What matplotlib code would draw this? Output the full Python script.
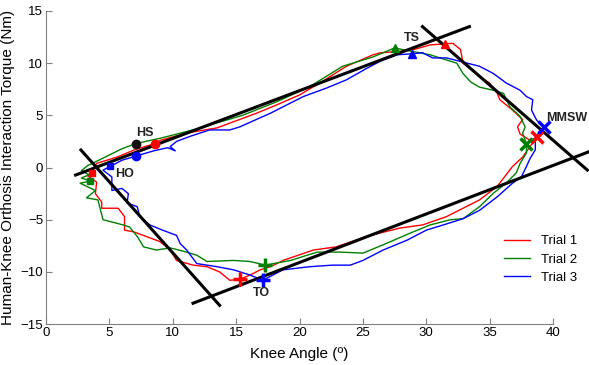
import matplotlib
matplotlib.use("Agg")
import matplotlib.pyplot as plt

plt.rcParams['font.family'] = ['Liberation Sans', 'DejaVu Sans']

# trial traces (knee angle in deg, torque in Nm), one loop each
red_x = [8.6, 7.0, 5.6, 4.8, 4.0, 3.6, 3.3, 4.0, 3.9, 4.4, 4.4, 5.7, 6.2, 6.2, 6.9, 7.9, 9.0, 9.8, 10.3,
         11.6, 12.7, 13.7, 14.5, 15.3, 16.1, 16.9, 17.7, 18.7, 21.1, 22.9, 25.3, 27.9, 29.7, 31.6, 34.2,
         35.6, 36.8, 37.6, 38.0, 38.7, 38.2, 37.4, 37.2, 37.6, 36.8, 35.8, 35.6, 35.0, 34.2, 32.9, 32.7,
         32.1, 31.5, 30.3, 29.0, 27.7, 26.4, 25.8, 23.7, 21.6, 20.0, 18.2, 16.6, 13.5, 11.1, 9.0, 8.6]
red_y = [2.3, 1.7, 1.0, 0.7, 0.4, -0.4, -0.8, -1.4, -2.5, -3.3, -3.9, -3.9, -4.7, -6.0, -6.15, -6.6, -7.1,
         -7.9, -8.9, -9.35, -9.5, -10.0, -10.8, -10.7, -10.3, -9.8, -9.5, -8.9, -7.9, -7.6, -6.6, -5.8,
         -5.5, -4.7, -3.1, -1.8, 0.1, 1.0, 1.7, 2.9, 2.6, 3.2, 3.9, 4.6, 5.5, 6.5, 7.1, 8.1, 8.7, 10.0,
         11.3, 11.9, 11.85, 11.75, 11.3, 11.1, 11.0, 10.8, 9.7, 8.1, 6.95, 6.0, 5.2, 3.8, 3.3, 2.6, 2.3]

green_x = [7.1, 6.0, 5.0, 4.0, 3.3, 2.8, 3.4, 2.8, 3.5, 2.7, 3.9, 3.2, 4.1, 4.5, 6.1, 6.6, 7.2, 7.7, 8.7,
           9.8, 10.8, 11.9, 12.7, 14.8, 16.1, 17.3, 19.3, 21.4, 23.2, 25.0, 26.6, 28.7, 30.3, 31.9, 32.9,
           34.2, 35.3, 36.3, 37.1, 37.4, 37.9, 37.9, 37.6, 37.8, 37.4, 36.6, 36.1, 35.3, 34.2, 33.5, 32.9,
           32.4, 31.6, 30.3, 29.0, 27.5, 25.8, 23.4, 20.8, 18.2, 15.5, 11.6, 9.0, 7.1]
green_y = [2.3, 1.8, 1.2, 0.6, 0.2, -0.3, -0.7, -1.0, -1.3, -1.5, -2.2, -2.9, -3.1, -5.0, -5.5, -5.7,
           -6.6, -7.6, -7.9, -7.7, -8.0, -8.4, -9.0, -8.9, -9.0, -9.35, -8.9, -8.1, -8.1, -8.2, -7.4,
           -6.3, -5.5, -5.0, -4.9, -3.75, -2.45, -1.5, -0.5, 0.4, 1.4, 2.3, 3.3, 3.9, 4.9, 5.8, 7.1, 7.4,
           7.7, 8.2, 9.0, 10.0, 10.3, 10.8, 11.1, 11.45, 10.6, 9.7, 7.75, 6.3, 5.0, 3.6, 2.8, 2.3]

blue_x = [7.1, 6.0, 5.05, 4.5, 5.2, 5.2, 6.0, 6.5, 6.4, 7.2, 7.4, 8.2, 9.2, 10.3, 10.6, 11.1, 11.9, 13.5,
          14.8, 16.1, 17.1, 18.7, 20.8, 22.6, 24.0, 25.0, 26.6, 28.5, 30.0, 31.6, 32.9, 34.2, 35.6, 36.8,
          37.5, 37.9, 38.2, 38.6, 38.6, 39.3, 38.7, 38.3, 38.4, 37.9, 37.4, 36.3, 35.3, 34.2, 32.9, 31.6,
          30.5, 29.7, 28.9, 27.7, 26.4, 25.3, 23.7, 22.1, 20.3, 17.7, 15.3, 14.5, 12.9, 11.4, 10.3, 9.8,
          10.2, 9.6, 8.5, 7.1]
blue_y = [1.1, 0.7, 0.1, -0.25, -0.9, -2.2, -2.0, -2.5, -3.4, -3.75, -4.7, -5.5, -6.0, -6.5, -7.3, -7.9,
          -9.2, -9.5, -9.8, -10.3, -10.8, -9.8, -9.5, -9.35, -9.35, -8.9, -7.9, -6.95, -6.0, -5.4, -4.9,
          -4.1, -2.8, -1.5, -0.9, 0.1, 0.9, 1.7, 2.95, 3.85, 4.55, 5.5, 6.5, 6.8, 7.4, 8.1, 9.0, 9.7, 10.1,
          10.5, 10.5, 11.0, 10.9, 10.8, 10.2, 9.5, 8.4, 7.6, 6.8, 5.2, 3.9, 3.6, 3.6, 3.0, 2.5, 2.0, 1.6,
          1.9, 1.6, 1.1]

# gait events per trial: red, green, blue
hs_x = [8.6, 7.1, 7.1]
hs_y = [2.3, 2.3, 1.1]
ho_x = [3.6, 3.5, 5.05]
ho_y = [-0.5, -1.3, 0.1]
to_x = [15.3, 17.3, 17.1]
to_y = [-10.7, -9.35, -10.8]
ts_x = [31.5, 27.5, 28.9]
ts_y = [11.85, 11.45, 10.9]
mmsw_x = [38.7, 37.9, 39.3]
mmsw_y = [2.9, 2.3, 3.85]

# fitted phase lines (start x, start y, end x, end y)
fit_lines = [(2.34, -0.72, 33.4, 13.5),
             (29.7, 13.5, 42.7, -0.24),
             (11.6, -13.0, 42.8, 1.5),
             (2.76, 1.68, 13.7, -13.2)]

event_labels = ['HS', 'HO', 'TO', 'TS', 'MMSW']
label_x = [7.8, 6.2, 17.0, 28.9, 41.1]
label_y = [3.3, -0.6, -12.0, 12.4, 4.7]

trial_names = ['Trial 1', 'Trial 2', 'Trial 3']
colors = ['#ff0000', '#008000', '#0000ff']

fig = plt.figure(figsize=(5.89, 3.65), dpi=100)
ax = fig.add_axes([0.078, 0.112, 0.861, 0.858])

ax.plot(red_x, red_y, color=colors[0], lw=1.0, label=trial_names[0])
ax.plot(green_x, green_y, color=colors[1], lw=1.0, label=trial_names[1])
ax.plot(blue_x, blue_y, color=colors[2], lw=1.0, label=trial_names[2])

for x0, y0, x1, y1 in fit_lines:
    ax.plot([x0, x1], [y0, y1], color='black', lw=2.2, clip_on=False, zorder=4)

hs_cols = [colors[0], '#111111', colors[2]]
for i in range(3):
    ax.plot(hs_x[i], hs_y[i], 'o', color=hs_cols[i], ms=6, zorder=5)
    ax.plot(ho_x[i], ho_y[i], 's', color=colors[i], ms=5, zorder=5)
    ax.plot(to_x[i], to_y[i], '+', color=colors[i], ms=10, mew=2.5, zorder=5)
    ax.plot(ts_x[i], ts_y[i], '^', color=colors[i], ms=6, zorder=5)
    ax.plot(mmsw_x[i], mmsw_y[i], 'x', color=colors[i], ms=8, mew=2.5, zorder=5, clip_on=False)

for t, lx, ly in zip(event_labels, label_x, label_y):
    ax.text(lx, ly, t, fontsize=9, fontweight='bold', ha='center', va='center', color='#222222', zorder=6)

ax.set_xlim(0, 40)
ax.set_ylim(-15, 15)
ax.set_xticks(range(0, 41, 5))
ax.set_yticks(range(-15, 16, 5))
ax.spines['top'].set_visible(False)
ax.spines['right'].set_visible(False)
for s in ['left', 'bottom']:
    ax.spines[s].set_color('#808080')
ax.tick_params(direction='in', length=4, color='#808080', labelsize=9.5, pad=2)
ax.set_xlabel('Knee Angle (º)', fontsize=11, labelpad=6)
ax.set_ylabel('Human-Knee Orthosis Interaction Torque (Nm)', fontsize=11, labelpad=4)

ax.legend(loc='lower right', bbox_to_anchor=(1.0, 0.19), bbox_transform=fig.transFigure,
          frameon=False, fontsize=9.5, handlelength=2.0, labelspacing=0.45)

fig.savefig('out.png', dpi=100)
